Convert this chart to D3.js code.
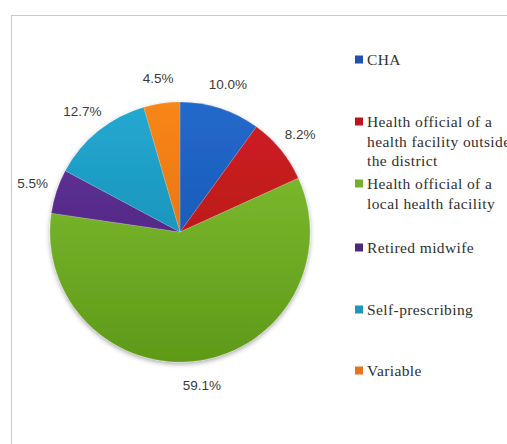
<!doctype html>
<html>
  <head>
    <meta charset="utf-8"/>
    <title>Source of advice</title>
    <style>
      body, html {
        padding: 0;
        margin: 0;
        border: 0;
        background: #fff;
      }
      .frame {
        position: absolute;
        left: 11px;
        top: 15px;
        width: 520px;
        height: 460px;
        border: 1.5px solid #c9c9c9;
        box-sizing: border-box;
      }
      svg {
        position: absolute;
        left: 0;
        top: 0;
      }
      .pct {
        font-family: "Liberation Sans", Arial, sans-serif;
        font-size: 13.5px;
        fill: #3a3a3a;
      }
      .legend-label {
        font-family: "Liberation Serif";
        font-size: 15.5px;
        fill: #303030;
        letter-spacing: 0.4px;
      }
    </style>
    <script src="https://d3js.org/d3.v7.min.js"></script>
  </head>
  <body>
    <div class="frame"></div>
    <svg id="chart" width="507" height="444"></svg>

    <script>
      var categories = ["CHA", "Health official of a health facility outside the district",
        "Health official of a local health facility", "Retired midwife", "Self-prescribing", "Variable"];
      var values = [10.0, 8.2, 59.1, 5.5, 12.7, 4.5];
      var legendLines = [
        ["CHA"],
        ["Health official of a", "health facility outside", "the district"],
        ["Health official of a", "local health facility"],
        ["Retired midwife"],
        ["Self-prescribing"],
        ["Variable"]
      ];
      var topColors = ["#2169cc", "#d01e22", "#86c236", "#6533a0", "#22a9d2", "#f8861a"];
      var bottomColors = ["#1a4ea6", "#a81418", "#5e9a18", "#45226f", "#1782a8", "#d8680a"];
      var legendColors = ["#1f52a8", "#b8161c", "#74b02c", "#4b2a7a", "#1e96bc", "#e8741a"];

      var svg = d3.select("#chart");
      var cx = 180, cy = 232, r = 130;

      var defs = svg.append("defs");
      var shadow = defs.append("filter").attr("id", "shadow")
        .attr("x", "-10%").attr("y", "-10%").attr("width", "120%").attr("height", "125%");
      shadow.append("feGaussianBlur").attr("in", "SourceAlpha").attr("stdDeviation", 2.5);
      shadow.append("feOffset").attr("dy", 2).attr("result", "b");
      shadow.append("feComponentTransfer").append("feFuncA").attr("type", "linear").attr("slope", 0.35);
      var merge = shadow.append("feMerge");
      merge.append("feMergeNode");
      merge.append("feMergeNode").attr("in", "SourceGraphic");

      categories.forEach(function(c, i) {
        var g = defs.append("linearGradient")
          .attr("id", "grad" + i)
          .attr("gradientUnits", "userSpaceOnUse")
          .attr("x1", 0).attr("y1", -r).attr("x2", 0).attr("y2", r);
        g.append("stop").attr("offset", "0%").attr("stop-color", topColors[i]);
        g.append("stop").attr("offset", "100%").attr("stop-color", bottomColors[i]);
      });

      var pie = d3.pie().sort(null).value(function(d) { return d; });
      var arcs = pie(values);
      var arc = d3.arc().innerRadius(0).outerRadius(r);
      var labelArc = d3.arc().innerRadius(155).outerRadius(155);
      var format = d3.format(".1f");

      var g = svg.append("g")
        .attr("transform", "translate(" + cx + "," + cy + ")");

      g.append("g")
        .attr("filter", "url(#shadow)")
        .selectAll("path")
        .data(arcs)
        .enter().append("path")
          .attr("d", arc)
          .attr("fill", function(d, i) { return "url(#grad" + i + ")"; })
          .attr("stroke", "rgba(255,255,255,0.25)")
          .attr("stroke-width", 0.6);

      g.selectAll(".pct")
        .data(arcs)
        .enter().append("text")
          .attr("class", "pct")
          .attr("transform", function(d) { return "translate(" + labelArc.centroid(d) + ")"; })
          .attr("text-anchor", "middle")
          .attr("dy", "0.35em")
          .text(function(d) { return format(d.data) + "%"; });

      var legendY = [60, 122, 184, 248, 310, 371];
      var lineH = 19.5;
      var legend = svg.append("g");

      var items = legend.selectAll(".item")
        .data(categories)
        .enter().append("g")
          .attr("class", "item")
          .attr("transform", function(d, i) { return "translate(355," + legendY[i] + ")"; });

      items.append("rect")
        .attr("x", 0).attr("y", -4.5)
        .attr("width", 8).attr("height", 8)
        .attr("fill", function(d, i) { return legendColors[i]; });

      items.append("text")
        .attr("class", "legend-label")
        .selectAll("tspan")
        .data(function(d, i) { return legendLines[i]; })
        .enter().append("tspan")
          .attr("x", 12)
          .attr("dy", function(d, j) { return j === 0 ? "0.35em" : lineH; })
          .text(function(d) { return d; });
    </script>
  </body>
</html>
